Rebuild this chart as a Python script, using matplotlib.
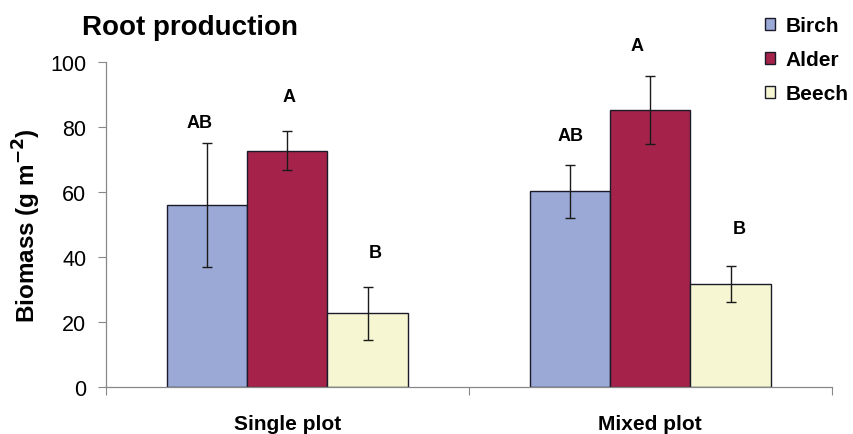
import numpy as np
import matplotlib
matplotlib.use("Agg")
import matplotlib.pyplot as plt

plt.rcParams['font.family'] = ['Liberation Sans', 'DejaVu Sans']

# root biomass by plot type and species
plots = ['Single plot', 'Mixed plot']
species = ['Birch', 'Alder', 'Beech']
birch = [56.0, 60.1]
alder = [72.6, 85.2]
beech = [22.6, 31.5]
birch_err = [19.1, 8.2]
alder_err = [6.0, 10.5]
beech_err = [8.2, 5.5]
birch_letters = ['AB', 'AB']
alder_letters = ['A', 'A']
beech_letters = ['B', 'B']

colors = ['#9aa9d6', '#a5234a', '#f6f7d2']


def draw_chart():
    fig = plt.figure(figsize=(8.54, 4.35), dpi=100)
    ax = fig.add_axes([0.124, 0.109, 0.850, 0.747])

    x = np.arange(len(plots))
    width = 0.221
    series = [birch, alder, beech]
    errors = [birch_err, alder_err, beech_err]
    letters = [birch_letters, alder_letters, beech_letters]
    # gap between error bar top and the significance letter
    letter_gap = [[6.2, 9.1], [10.6, 9.4], [10.6, 11.5]]
    letter_dx = [[-0.02, 0.0], [0.005, -0.036], [0.02, 0.025]]

    for i, (vals, errs, name) in enumerate(zip(series, errors, species)):
        pos = x + (i - 1) * width
        ax.bar(pos, vals, width, color=colors[i], edgecolor='#1a1a2a',
               linewidth=1.0, label=name, zorder=2)
        ax.errorbar(pos, vals, yerr=errs, fmt='none', ecolor='#1a1a1a',
                    elinewidth=1.0, capsize=3.5, capthick=1.0, zorder=3)
        for j in range(len(plots)):
            ax.text(pos[j] + letter_dx[i][j], vals[j] + errs[j] + letter_gap[i][j],
                    letters[i][j], ha='center', va='center',
                    fontsize=13, fontweight='bold')

    ax.set_xlim(-0.5, 1.5)
    ax.set_ylim(0, 100)
    ax.set_yticks(range(0, 101, 20))
    ax.tick_params(axis='y', labelsize=15.5, length=6, width=0.8,
                   color='#888888', pad=8)
    ax.set_xticks([-0.5, 0.5, 1.5], minor=False)
    ax.set_xticklabels([])
    ax.tick_params(axis='x', length=6, width=0.8, color='#888888')
    ax.set_xticks(x, minor=True)
    ax.set_xticklabels(plots, minor=True, fontsize=15, fontweight='bold')
    ax.tick_params(axis='x', which='minor', length=0, pad=20)

    for side in ['top', 'right']:
        ax.spines[side].set_visible(False)
    for side in ['left', 'bottom']:
        ax.spines[side].set_color('#888888')
        ax.spines[side].set_linewidth(0.9)

    ax.set_ylabel('Biomass (g m$^{\\mathbf{-2}}$)', fontsize=17.5,
                  fontweight='bold', labelpad=5)
    fig.text(0.096, 0.935, 'Root production', fontsize=20,
             fontweight='bold', ha='left', va='center')

    ax.legend(loc='upper left', bbox_to_anchor=(0.896, 1.165), frameon=False,
              prop={'weight': 'bold', 'size': 15},
              handlelength=0.5, handleheight=0.5, handletextpad=0.5,
              labelspacing=0.72, borderaxespad=0)

    fig.savefig('out.png', dpi=100, facecolor='white')


if __name__ == '__main__':
    draw_chart()
